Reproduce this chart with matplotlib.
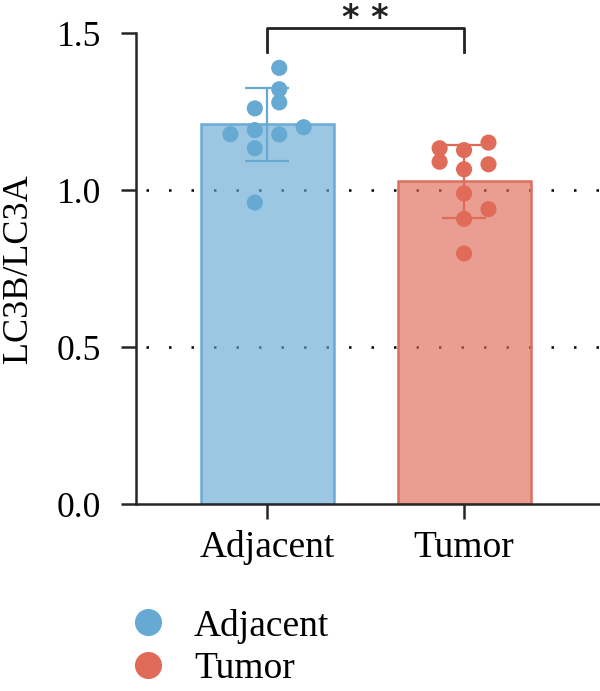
import matplotlib
matplotlib.use("Agg")
import matplotlib.pyplot as plt
import numpy as np
from matplotlib.lines import Line2D

plt.rcParams["font.family"] = ["Liberation Serif", "DejaVu Serif"]

groups = ["Adjacent", "Tumor"]
adjacent = [1.389, 1.321, 1.279, 1.260, 1.178, 1.191, 1.177, 1.200, 1.133, 0.960]
tumor = [1.133, 1.127, 1.151, 1.090, 1.066, 1.082, 0.989, 0.939, 0.908, 0.798]
yticks = [0.0, 0.5, 1.0, 1.5]
significance = "* *"

# swarm column for each point (in units of one marker step)
adjacent_cols = [0.5, 0.5, 0.5, -0.5, -1.5, -0.5, 0.5, 1.5, -0.5, -0.5]
tumor_cols = [-1, 0, 1, -1, 0, 1, 0, 1, 0, 0]

dot_colors = ["#66aad3", "#e06b58"]
edge_colors = ["#6aaad4", "#dd6f5f"]
step = 0.124

fig = plt.figure(figsize=(6.0, 6.91), dpi=100)
ax = fig.add_axes([0.2267, 0.2706, 0.7733, 0.6816])

for y in [0.5, 1.0]:
    ax.axhline(y, color="black", lw=1.8, linestyle=(5, (1.0, 8.0)), zorder=1)

data = [adjacent, tumor]
cols = [adjacent_cols, tumor_cols]
for i, vals in enumerate(data):
    vals = np.array(vals)
    mean = vals.mean()
    sd = vals.std(ddof=1)
    ax.bar(i, mean, width=0.675, color=dot_colors[i], alpha=0.65, zorder=2)
    ax.bar(i, mean, width=0.675, fill=False, edgecolor=edge_colors[i], lw=1.8, zorder=2)
    ax.scatter(i + np.array(cols[i]) * step, vals, s=135, color=dot_colors[i],
               edgecolor="none", zorder=3)
    ax.errorbar(i, mean, yerr=sd, color=dot_colors[i], capsize=16, elinewidth=1.6,
                capthick=1.6, zorder=4)

# significance bracket
ax.plot([0, 0, 1, 1], [1.44, 1.517, 1.517, 1.44], color="#222222", lw=2.0,
        clip_on=False, zorder=5)
ax.text(0.5, 1.515, significance, ha="center", va="baseline", fontsize=24,
        family="DejaVu Sans", fontweight="bold", color="#222222")

ax.set_xlim(-0.665, 1.69)
ax.set_ylim(0, 1.5)
ax.set_yticks(yticks)
ax.set_yticklabels([f"{t:.1f}" for t in yticks])
ax.set_xticks(range(len(groups)))
ax.set_xticklabels(groups)
ax.set_ylabel("LC3B/LC3A", fontsize=26, labelpad=16)

for side in ["top", "right"]:
    ax.spines[side].set_visible(False)
for side in ["left", "bottom"]:
    ax.spines[side].set_linewidth(1.8)
    ax.spines[side].set_color("#262626")
ax.tick_params(axis="both", width=1.8, length=11, color="#262626")
ax.tick_params(axis="x", labelsize=27, pad=8)
ax.tick_params(axis="y", labelsize=25.5, pad=14)

handles = [Line2D([], [], marker="o", linestyle="none", markersize=19.5,
                  color=c, markeredgewidth=0) for c in dot_colors]
fig.legend(handles, groups, loc="upper left", bbox_to_anchor=(0.19, 0.141),
           frameon=False, fontsize=27, handletextpad=0.73, labelspacing=0.22,
           borderaxespad=0, handlelength=1.0)

fig.savefig("out.png", dpi=100)
